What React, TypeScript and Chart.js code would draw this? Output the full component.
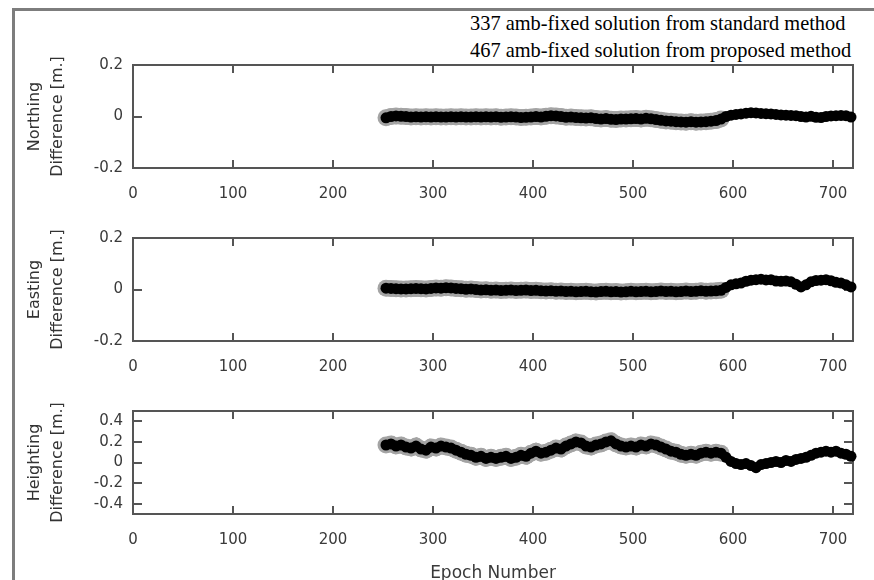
import React, { useEffect, useRef } from 'react';
import { Chart, registerables } from 'chart.js';

Chart.register(...registerables);

// ---- data ----
const EPOCHS = [
  253, 258, 263, 268, 273, 278, 283, 288, 293, 298,
  303, 308, 313, 318, 323, 328, 333, 338, 343, 348,
  353, 358, 363, 368, 373, 378, 383, 388, 393, 398,
  403, 408, 413, 418, 423, 428, 433, 438, 443, 448,
  453, 458, 463, 468, 473, 478, 483, 488, 493, 498,
  503, 508, 513, 518, 523, 528, 533, 538, 543, 548,
  553, 558, 563, 568, 573, 578, 583, 588, 593, 598,
  603, 608, 613, 618, 623, 628, 633, 638, 643, 648,
  653, 658, 663, 668, 673, 678, 683, 688, 693, 698,
  703, 708, 713, 718,
];

const NORTHING = [
  -0.005, 0.0, 0.002, 0.001, 0.0, -0.002, -0.001, -0.002, -0.001, -0.002,
  -0.001, -0.002, -0.002, -0.001, -0.002, -0.001, -0.002, -0.002, -0.001, -0.002,
  -0.001, -0.002, -0.001, -0.003, -0.002, -0.001, -0.002, -0.004, -0.003, -0.002,
  0.0, -0.002, 0.001, 0.003, 0.002, 0.0, -0.003, -0.002, -0.004, -0.005,
  -0.006, -0.005, -0.008, -0.01, -0.008, -0.011, -0.012, -0.01, -0.01, -0.009,
  -0.008, -0.01, -0.007, -0.009, -0.012, -0.015, -0.017, -0.018, -0.02, -0.021,
  -0.022, -0.02, -0.022, -0.021, -0.02, -0.018, -0.016, -0.01, 0.0, 0.005,
  0.008, 0.01, 0.013, 0.015, 0.014, 0.012, 0.011, 0.01, 0.008, 0.006,
  0.005, 0.004, 0.003, 0.0, -0.002, 0.001, -0.003, -0.004, 0.0, 0.002,
  0.003, 0.004, 0.003, -0.002,
];

const EASTING = [
  0.005, 0.004, 0.003, 0.002, 0.002, 0.003, 0.004, 0.003, 0.002, 0.004,
  0.006, 0.005, 0.007, 0.006, 0.004, 0.003, 0.001, 0.002, 0.0, -0.002,
  -0.001, -0.003, -0.002, -0.004, -0.003, -0.002, -0.004, -0.003, -0.002, -0.004,
  -0.003, -0.005, -0.006, -0.005, -0.007, -0.006, -0.008, -0.007, -0.009, -0.008,
  -0.007, -0.009, -0.01, -0.008, -0.007, -0.009, -0.008, -0.01, -0.009, -0.007,
  -0.009, -0.008, -0.007, -0.009, -0.008, -0.006, -0.008, -0.007, -0.009, -0.008,
  -0.006, -0.008, -0.007, -0.005, -0.007, -0.006, -0.005, -0.003, 0.008, 0.018,
  0.022, 0.025, 0.032, 0.036, 0.038, 0.04, 0.037, 0.038, 0.033, 0.032,
  0.033, 0.03, 0.02, 0.01, 0.018, 0.03, 0.035, 0.036, 0.038, 0.034,
  0.028, 0.025, 0.018, 0.01,
];

const HEIGHTING = [
  0.17, 0.18, 0.16, 0.17, 0.15, 0.14, 0.16, 0.13, 0.12, 0.15,
  0.14, 0.16, 0.15, 0.14, 0.12, 0.1, 0.08, 0.07, 0.05, 0.06,
  0.04, 0.05, 0.04, 0.05, 0.06, 0.04, 0.05, 0.07, 0.06, 0.09,
  0.11, 0.09, 0.1, 0.12, 0.14, 0.13, 0.16, 0.18, 0.2, 0.19,
  0.16, 0.15, 0.17, 0.18, 0.2, 0.21, 0.18, 0.16, 0.15, 0.16,
  0.15, 0.17, 0.16, 0.18, 0.17, 0.15, 0.13, 0.11, 0.1, 0.08,
  0.07, 0.08, 0.07, 0.09, 0.1, 0.09, 0.1, 0.09, 0.05, 0.01,
  -0.01, -0.02, -0.01, -0.03, -0.05, -0.02, -0.01, 0.0, 0.01, 0.0,
  0.02, 0.01, 0.03, 0.04, 0.05, 0.07, 0.09, 0.1, 0.11, 0.1,
  0.11, 0.09, 0.08, 0.06,
];

// last epoch with an ambiguity-fixed solution from the standard method
const STANDARD_LAST_EPOCH = 590;

const X_TICKS = [0, 100, 200, 300, 400, 500, 600, 700];
const X_MIN = 0;
const X_MAX = 720;
const Y_TICKS_SMALL = [-0.2, 0, 0.2];
const Y_TICKS_HEIGHT = [-0.4, -0.2, 0, 0.2, 0.4];

const LEGEND_LINES = [
  '337 amb-fixed solution from standard method',
  '467 amb-fixed solution from proposed method',
];

// ---- styling ----
const FRAME = '#555555';
const TICK_FONT = { family: 'DejaVu Sans', size: 15 };
const TITLE_FONT = { family: 'DejaVu Sans', size: 16, lineHeight: '23px' };

const gnuFrame = {
  id: 'gnuFrame',
  beforeDatasetsDraw(chart: any) {
    const { ctx, chartArea } = chart;
    const { left, right, top, bottom } = chartArea;
    const xs = chart.scales.x;
    const ys = chart.scales.y;
    ctx.save();
    ctx.strokeStyle = FRAME;
    ctx.lineWidth = 2;
    ctx.strokeRect(left, top, right - left, bottom - top);
    ctx.beginPath();
    for (const t of xs.ticks) {
      const px = Math.round(xs.getPixelForValue(t.value));
      if (px <= left + 1 || px >= right - 1) continue;
      ctx.moveTo(px, bottom);
      ctx.lineTo(px, bottom - 8);
      ctx.moveTo(px, top);
      ctx.lineTo(px, top + 8);
    }
    for (const t of ys.ticks) {
      const py = Math.round(ys.getPixelForValue(t.value));
      if (py <= top + 1 || py >= bottom - 1) continue;
      ctx.moveTo(left, py);
      ctx.lineTo(left + 9, py);
      ctx.moveTo(right, py);
      ctx.lineTo(right - 9, py);
    }
    ctx.stroke();
    ctx.restore();
  },
};

type PanelProps = {
  top: number;
  height: number;
  xAxisHeight: number;
  values: number[];
  yMin: number;
  yMax: number;
  yTicks: number[];
  titleLines: string[];
  xTitle?: string;
};

function Panel(props: PanelProps) {
  const ref = useRef<HTMLCanvasElement | null>(null);
  useEffect(() => {
    const canvas = ref.current;
    if (!canvas) return;
    const proposed = EPOCHS.map((e, i) => ({ x: e, y: props.values[i] }));
    const standard = proposed.filter((p) => p.x <= STANDARD_LAST_EPOCH);
    const chart = new Chart(canvas, {
      type: 'scatter',
      data: {
        datasets: [
          {
            label: 'proposed',
            data: proposed,
            showLine: true,
            borderColor: '#000000',
            borderWidth: 9,
            pointRadius: 5.5,
            pointBackgroundColor: '#000000',
            pointBorderWidth: 0,
            clip: false as any,
            order: 0,
          },
          {
            label: 'standard',
            data: standard,
            showLine: true,
            borderColor: '#a4a4a4',
            borderWidth: 16,
            pointRadius: 8.5,
            pointBackgroundColor: '#a4a4a4',
            pointBorderWidth: 0,
            clip: false as any,
            order: 1,
          },
        ],
      },
      options: {
        responsive: false,
        animation: false,
        events: [],
        layout: { padding: { top: 10, right: 21, left: 0, bottom: 0 } },
        plugins: {
          legend: { display: false },
          tooltip: { enabled: false },
        },
        scales: {
          x: {
            type: 'linear',
            min: X_MIN,
            max: X_MAX,
            grid: { display: false, drawTicks: false },
            border: { display: false },
            afterBuildTicks: (s: any) => {
              s.ticks = X_TICKS.map((v) => ({ value: v }));
            },
            afterFit: (s: any) => {
              s.height = props.xAxisHeight;
              s.paddingLeft = 0;
              s.paddingRight = 0;
            },
            ticks: {
              font: TICK_FONT,
              color: '#3a3a3a',
              padding: 17,
              maxRotation: 0,
              autoSkip: false,
              callback: (v: any) => String(v),
            },
            title: props.xTitle
              ? {
                  display: true,
                  text: props.xTitle,
                  font: { family: 'DejaVu Sans', size: 17, lineHeight: 1 },
                  color: '#3a3a3a',
                  padding: { top: 0, bottom: 2 },
                }
              : { display: false },
          },
          y: {
            type: 'linear',
            min: props.yMin,
            max: props.yMax,
            grid: { display: false, drawTicks: false },
            border: { display: false },
            afterBuildTicks: (s: any) => {
              s.ticks = props.yTicks.map((v) => ({ value: v }));
            },
            afterFit: (s: any) => {
              s.width = 133;
              s.paddingTop = 0;
              s.paddingBottom = 0;
            },
            ticks: {
              font: TICK_FONT,
              color: '#3a3a3a',
              padding: 10,
              autoSkip: false,
              callback: (v: any) => String(v),
            },
            title: {
              display: true,
              text: props.titleLines,
              font: TITLE_FONT,
              color: '#333333',
              padding: { top: 23, bottom: 0 },
            },
          },
        },
      },
      plugins: [gnuFrame],
    } as any);
    return () => chart.destroy();
  }, []);
  return (
    <canvas
      ref={ref}
      width={874}
      height={props.height}
      style={{ position: 'absolute', left: 0, top: props.top, width: 874, height: props.height, display: 'block' }}
    />
  );
}

export default function App() {
  return (
    <div
      style={{
        position: 'absolute',
        left: 0,
        top: 0,
        width: 874,
        height: 580,
        overflow: 'hidden',
        background: '#ffffff',
      }}
    >
      <div
        style={{
          position: 'absolute',
          left: 12,
          top: 8,
          width: 1000,
          height: 1000,
          borderLeft: '3px solid #7d7d7d',
          borderTop: '3px solid #7d7d7d',
        }}
      />
      {LEGEND_LINES.map((t, i) => (
        <div
          key={t}
          style={{
            position: 'absolute',
            left: 470,
            top: 11 + i * 27,
            fontFamily: '"Liberation Serif", serif',
            fontSize: 20.4,
            lineHeight: '24px',
            color: '#000',
            whiteSpace: 'nowrap',
          }}
        >
          {t}
        </div>
      ))}
      <Panel
        top={55}
        height={158}
        xAxisHeight={45}
        values={NORTHING}
        yMin={-0.2}
        yMax={0.2}
        yTicks={Y_TICKS_SMALL}
        titleLines={['Northing', 'Difference [m.]']}
      />
      <Panel
        top={228}
        height={158}
        xAxisHeight={45}
        values={EASTING}
        yMin={-0.2}
        yMax={0.2}
        yTicks={Y_TICKS_SMALL}
        titleLines={['Easting', 'Difference [m.]']}
      />
      <Panel
        top={401}
        height={183}
        xAxisHeight={70}
        values={HEIGHTING}
        yMin={-0.5}
        yMax={0.5}
        yTicks={Y_TICKS_HEIGHT}
        titleLines={['Heighting', 'Difference [m.]']}
        xTitle="Epoch Number"
      />
    </div>
  );
}
